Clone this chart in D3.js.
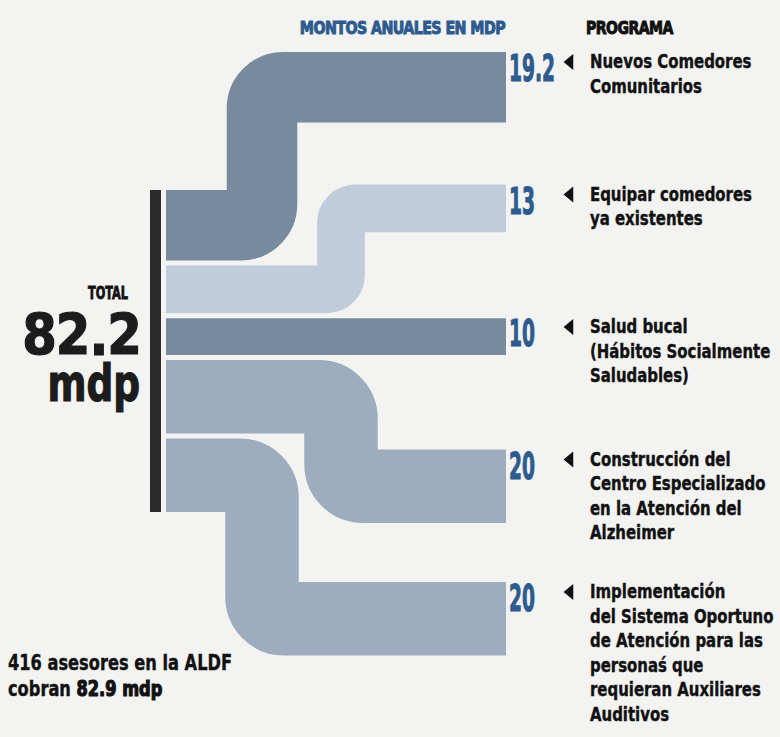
<!DOCTYPE html>
<html>
<head>
<meta charset="utf-8">
<script src="https://cdn.jsdelivr.net/npm/d3@7"></script>
<style>
  body { margin: 0; background: #f3f3f1; }
  svg { display: block; }
  text { font-family: "DejaVu Sans Condensed", "DejaVu Sans", sans-serif; font-weight: bold; }
</style>
</head>
<body>
<svg id="grafico" width="780" height="737"></svg>
<script>
// Datos
const programas = [
  ["Nuevos Comedores", "Comunitarios"],
  ["Equipar comedores", "ya existentes"],
  ["Salud bucal", "(Hábitos Socialmente", "Saludables)"],
  ["Construcción del", "Centro Especializado", "en la Atención del", "Alzheimer"],
  ["Implementación", "del Sistema Oportuno", "de Atención para las", "personaś que", "requieran Auxiliares", "Auditivos"]
];
const montos = [19.2, 13, 10, 20, 20];
const etiquetas = ["19.2", "13", "10", "20", "20"];
const total = 82.2;
const asesores = 416;
const montoAsesores = 82.9;

const svg = d3.select("#grafico");

const colores = ["#788a9e", "#c0ccdb", "#788a9e", "#9eacc0", "#9eacc0"];
const xIni = 166, xFin = 506, hueco = 5;
const yIni = 190, yFin = 512;

// grosor proporcional al monto
const grosor = d3.scaleLinear()
  .domain([0, total])
  .range([0, yFin - yIni - hueco * (montos.length - 1)]);

// filas de la derecha (programas)
const fila = d3.scalePoint()
  .domain(d3.range(montos.length))
  .range([52, 582]);

let acum = yIni;
const flujos = montos.map((v, i) => {
  const t = grosor(v);
  const f = { i, v, t, yL: acum, yR: fila(i) };
  acum += t + hueco;
  return f;
});

// los que suben doblan de arriba hacia abajo, los que bajan al revés
const suben = flujos.filter(f => f.yR < f.yL);
const bajan = flujos.filter(f => f.yR >= f.yL).reverse();
suben.forEach((f, r) => f.rango = r);
bajan.forEach((f, r) => f.rango = r);

const xDoblez = d3.scaleLinear().domain([0, 2]).range([262, 420]);

svg.append("g")
  .selectAll("path")
  .data(flujos)
  .join("path")
  .attr("d", f => {
    const ya = f.yL + f.t / 2;
    let yb = f.yR + f.t / 2;
    const p = d3.path();
    p.moveTo(xIni, ya);
    if (Math.abs(yb - ya) > 4) {
      const bx = xDoblez(f.rango);
      const r = Math.min(f.t * 0.3, Math.abs(yb - ya) / 2);
      p.arcTo(bx, ya, bx, yb, r);
      p.arcTo(bx, yb, xFin, yb, r);
    } else {
      yb = ya;
    }
    p.lineTo(xFin, yb);
    return p.toString();
  })
  .attr("fill", "none")
  .attr("stroke", d => colores[d.i])
  .attr("stroke-width", d => d.t)
  .attr("stroke-linecap", "butt");

// barra negra del total
svg.append("rect")
  .attr("x", 150)
  .attr("y", yIni)
  .attr("width", 11)
  .attr("height", acum - hueco - yIni)
  .attr("fill", "#2a2a2a");

// texto comprimido en horizontal (la tipografía original es muy condensada)
function texto(x, y, sx) {
  return svg.append("g")
    .attr("transform", `translate(${x},${y}) scale(${sx},1)`)
    .append("text");
}

// encabezados
texto(505, 34, 0.93)
  .attr("text-anchor", "end")
  .attr("font-size", 17)
  .attr("fill", "#2d5b8f")
  .attr("stroke", "#2d5b8f").attr("stroke-width", 0.9)
  .attr("letter-spacing", -0.6)
  .text("MONTOS ANUALES EN MDP");

texto(586, 34, 0.92)
  .attr("font-size", 17)
  .attr("fill", "#111")
  .attr("stroke", "#111").attr("stroke-width", 0.9)
  .attr("letter-spacing", -0.6)
  .text("PROGRAMA");

// montos
svg.append("g")
  .selectAll("g")
  .data(flujos)
  .join("g")
  .attr("transform", d => `translate(509,${d.yR + 29}) scale(0.56,1)`)
  .append("text")
  .attr("font-size", 37)
  .attr("fill", "#2d5b8f")
  .attr("stroke", "#2d5b8f").attr("stroke-width", 1)
  .text(d => etiquetas[d.i]);

// flechas
svg.append("g")
  .selectAll("path")
  .data(flujos)
  .join("path")
  .attr("transform", d => `translate(570,${d.yR + 10}) rotate(-90) scale(1,0.7)`)
  .attr("d", d3.symbol(d3.symbolTriangle, 110))
  .attr("fill", "#111");

// nombres de los programas
svg.append("g")
  .selectAll("g")
  .data(flujos)
  .join("g")
  .attr("transform", d => `translate(590,${d.yR + 16}) scale(0.83,1)`)
  .append("text")
  .attr("font-size", 20)
  .attr("fill", "#111")
  .attr("stroke", "#111").attr("stroke-width", 0.4)
  .selectAll("tspan")
  .data(d => programas[d.i])
  .join("tspan")
  .attr("x", 0)
  .attr("dy", (d, j) => j ? 24.6 : 0)
  .text(d => d);

// total
texto(128, 299, 0.74)
  .attr("text-anchor", "end")
  .attr("font-size", 17)
  .attr("fill", "#111")
  .attr("stroke", "#111").attr("stroke-width", 0.8)
  .text("TOTAL");

texto(141, 355, 0.97)
  .attr("text-anchor", "end")
  .attr("font-size", 57)
  .attr("fill", "#1c1c1c")
  .attr("stroke", "#1c1c1c").attr("stroke-width", 1.2)
  .attr("letter-spacing", -1)
  .text(d3.format(".1f")(total));

texto(140, 401, 0.8)
  .attr("text-anchor", "end")
  .attr("font-size", 52)
  .attr("fill", "#1c1c1c")
  .attr("stroke", "#1c1c1c").attr("stroke-width", 1.2)
  .text("mdp");

// nota inferior
texto(8, 670, 0.82)
  .attr("font-size", 22)
  .attr("fill", "#111")
  .attr("stroke", "#111").attr("stroke-width", 0.4)
  .text(`${asesores} asesores en la ALDF`);

const nota = texto(8, 696, 0.82)
  .attr("font-size", 22)
  .attr("fill", "#111")
  .attr("stroke", "#111").attr("stroke-width", 0.4);
nota.append("tspan").text("cobran ");
nota.append("tspan")
  .attr("stroke-width", 1.2)
  .text(`${montoAsesores} mdp`);
</script>
</body>
</html>
